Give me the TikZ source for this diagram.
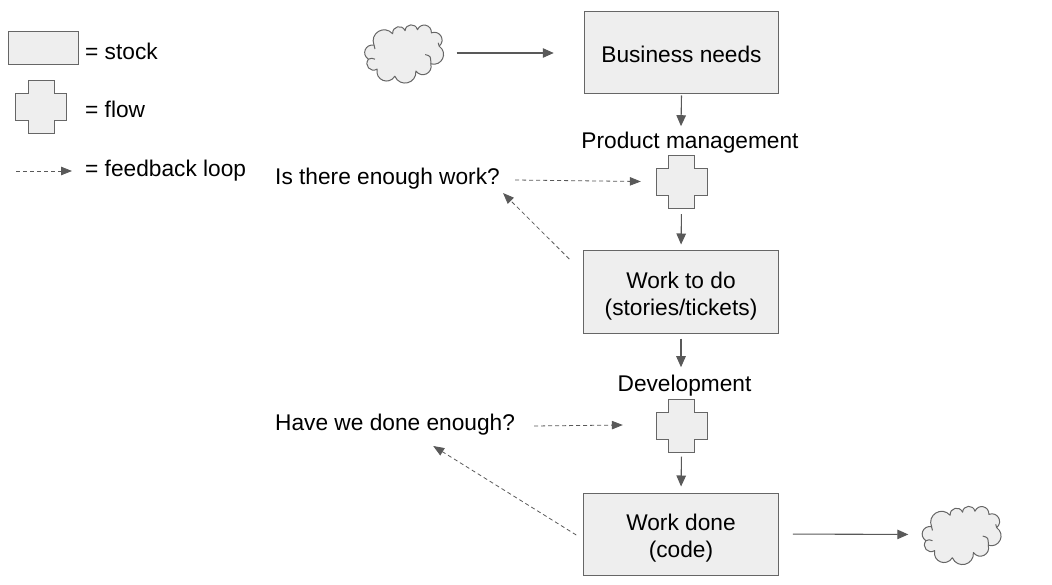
\documentclass[tikz,border=0pt]{standalone}
\usepackage{fontspec}
\setmainfont{Liberation Sans}
\usetikzlibrary{arrows.meta,calc}
\definecolor{boxfill}{HTML}{EEEEEE}
\definecolor{edge}{HTML}{666666}
\definecolor{wire}{HTML}{595959}
\newcommand{\labelfont}{\fontsize{22.7pt}{27pt}\selectfont}
\tikzset{
  stock/.style={draw=edge,line width=1pt,fill=boxfill,rectangle,inner sep=0pt,minimum width=194.5pt,minimum height=82pt,align=center,text=black,font=\labelfont},
  lbl/.style={inner sep=0pt,text=black,font=\labelfont,anchor=center},
  lblw/.style={lbl,anchor=west},
  flowshape/.style={draw=edge,line width=1pt,fill=boxfill,line join=miter},
  cloudshape/.style={draw=edge,line width=1pt,fill=boxfill,line join=round},
  lobe/.style={bend left=80,looseness=1.5},
  solidarrow/.style={draw=wire,line width=1.1pt,-{Triangle[length=11pt,width=9.5pt]},wire},
  fbarrow/.style={draw=wire,line width=0.8pt,dash pattern=on 4pt off 3pt,-{Triangle[length=11pt,width=8.5pt,sep=0pt]},wire}
}
% cross: name, centre x, centre y
\newcommand{\flowcross}[3]{%
  \draw[flowshape,shift={(#2,#3)}] (-25.5,-13.5) -- (-13,-13.5) -- (-13,-26.5) -- (13,-26.5) -- (13,-13.5) -- (25.5,-13.5) -- (25.5,13.5) -- (13,13.5) -- (13,26.5) -- (-13,26.5) -- (-13,13.5) -- (-25.5,13.5) -- cycle;
  \node[inner sep=0pt,minimum width=51pt,minimum height=53pt] (#1) at (#2,#3) {};}
\newcommand{\cloudat}[3]{%
  \begin{scope}[shift={(#2,#3)},x=0.31pt,y=-0.31pt]
  \draw[cloudshape] (-95,-25) to[lobe] (-35,-62)
    to[lobe] (5,-72)
    to[lobe] (45,-75)
    to[lobe] (90,-65)
    to[lobe] (115,-22)
    to[lobe] (88,35)
    to[lobe] (40,58)
    to[lobe] (-28,75)
    to[lobe] (-85,52)
    to[lobe] (-113,20)
    to[lobe] (-95,-25) -- cycle;
  \draw[cloudshape,fill=none] (70,5) .. controls (88,10) .. (88,35);
  \draw[cloudshape,fill=none] (-113,20) .. controls (-103,16) .. (-92,20);
  \draw[cloudshape,fill=none] (115,-22) .. controls (115,-28) .. (112,-33);
  \draw[cloudshape,fill=none] (-95,-25) .. controls (-95,-18) .. (-92,-13);
  \end{scope}
  \node[inner sep=0pt,minimum width=80pt,minimum height=60pt] (#1) at (#2,#3) {};}
\begin{document}
\begin{tikzpicture}[x=1pt,y=-1pt]
\useasboundingbox (0,0) rectangle (1052,585);
% legend
\node[stock,minimum width=70pt,minimum height=33pt] (legstock) at (43,48.5) {};
\node[lblw] (legstocklbl) at (85,51) {= stock};
\flowcross{legflow}{41}{107}
\node[lblw] (legflowlbl) at (85,109) {= flow};
\node[lblw] (legfblbl) at (85,170.5) {= feedback loop};
\draw[fbarrow] ($(legfblbl.west)+(-69,0.5)$) -- ($(legfblbl.west)+(-13,0.5)$);
% stocks
\node[stock,text height=18.4pt] (biz) at (681.5,53) {Business needs};
\node[stock] (todo) at (681,292) {\rule{0pt}{24.4pt}Work to do\\(stories/tickets)};
\node[stock] (done) at (681,534) {\rule{0pt}{24.4pt}Work done\\(code)};
% clouds
\cloudat{cloudin}{403.5}{53}
\cloudat{cloudout}{961}{534.5}
% flows
\flowcross{pmflow}{681.5}{182.5}
\flowcross{devflow}{681.5}{426}
% labels
\node[lbl] (pm) at (690,142.5) {Product management};
\node[lbl] (dev) at (684.5,385.5) {Development};
\node[lblw] (q1) at (275,178.5) {Is there enough work?};
\node[lblw] (q2) at (275,424.5) {Have we done enough?};
% solid connectors
\draw[solidarrow,shorten <=13pt,shorten >=30pt] (cloudin.east) -- (biz.west);
\draw[solidarrow,shorten <=1pt] (biz.south) -- ($(pm.north)+(-9,-5.5)$);
\draw[solidarrow,shorten <=5pt,shorten >=6pt] (pmflow.south) -- (todo.north);
\draw[solidarrow,shorten <=5pt] (todo.south) -- ($(dev.north)+(-3.5,-7.5)$);
\draw[solidarrow,shorten <=4pt,shorten >=6pt] (devflow.south) -- (done.north);
\draw[solidarrow,shorten <=14pt,shorten >=12.5pt] (done.east) -- (cloudout.west);
% feedback connectors
\draw[fbarrow] ($(q1.east)+(15,1.5)$) -- ($(pmflow.west)+(-15,-1)$);
\draw[fbarrow] ($(todo.west)+(-14,-33)$) -- ($(q1.east)+(3,14.5)$);
\draw[fbarrow] ($(q2.east)+(19,1.5)$) -- ($(devflow.west)+(-33,-1)$);
\draw[fbarrow] ($(done.west)+(-7,1)$) -- ($(q2.east)+(-82,21.5)$);
\end{tikzpicture}
\end{document}
